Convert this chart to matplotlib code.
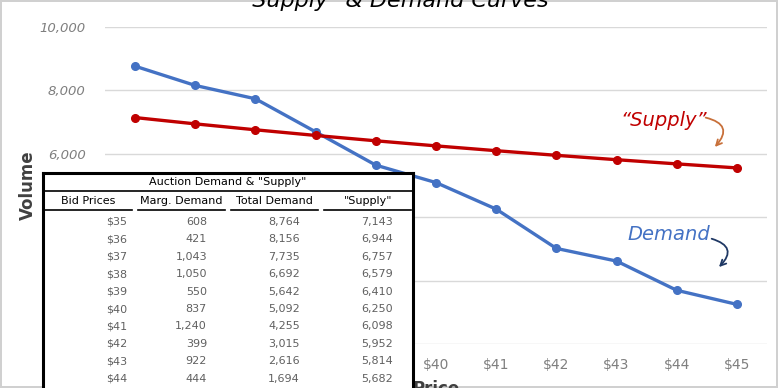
import matplotlib
matplotlib.use('Agg')
import matplotlib.pyplot as plt
from matplotlib.lines import Line2D

plt.rcParams['text.parse_math'] = False

# datos
precios = ['$35', '$36', '$37', '$38', '$39', '$40', '$41', '$42', '$43', '$44', '$45']
demanda_total = [8764, 8156, 7735, 6692, 5642, 5092, 4255, 3015, 2616, 1694, 1250]
oferta = [7143, 6944, 6757, 6579, 6410, 6250, 6098, 5952, 5814, 5682, 5555]
demanda_marg = [608, 421, 1043, 1050, 550, 837, 1240, 399, 922, 444]
cabeceras = ['Bid Prices', 'Marg. Demand', 'Total Demand', '"Supply"']
y_ticks = [0, 2000, 4000, 6000, 8000, 10000]

W, H = 778, 388
azul = '#4472C4'
rojo = '#C00000'
gris = '#7f7f7f'

fig = plt.figure(figsize=(W / 100, H / 100), dpi=100)
fig.patch.set_edgecolor('#d0d0d0')
fig.patch.set_linewidth(1.5)

ax = fig.add_axes([105 / W, 1 - 344 / H, 662 / W, 317 / H])
x = list(range(len(precios)))
ax.plot(x, demanda_total, color=azul, lw=2.4, marker='o', ms=5.5, zorder=3)
ax.plot(x, oferta, color=rojo, lw=2.4, marker='o', ms=5.5, zorder=3)
ax.set_xlim(-0.5, len(precios) - 0.5)
ax.set_ylim(0, 10000)
ax.set_yticks(y_ticks)
ax.set_yticklabels([f'{v:,}' for v in y_ticks], color=gris, fontsize=9.5, style='italic')
ax.set_xticks(x)
ax.set_xticklabels(precios, color=gris, fontsize=10)
ax.tick_params(length=0, pad=10)
ax.tick_params(axis='y', pad=14)
for s in ax.spines.values():
    s.set_visible(False)
ax.grid(axis='y', color='#d9d9d9', lw=1)
ax.set_axisbelow(True)

fig.text(395 / W, 1 - 7 / H, '"Supply" & Demand Curves', ha='center', va='baseline',
         fontsize=16, style='italic', color='black')
fig.text(28 / W, 1 - 185 / H, 'Volume', rotation=90, ha='center', va='center',
         fontsize=12, color='#404040', fontweight='bold')
fig.text(436 / W, 1 - 380 / H, 'Price', ha='center', va='top', fontsize=12,
         color='#404040', fontweight='bold')

# anotaciones
fig.text(664 / W, 1 - 120 / H, '\u201cSupply\u201d', ha='center', va='center',
         fontsize=14, style='italic', color=rojo)
ax.annotate('', xy=(713 / W, 1 - 149 / H), xytext=(703 / W, 1 - 117 / H),
            xycoords='figure fraction', textcoords='figure fraction',
            arrowprops=dict(arrowstyle='->', color='#c8703a', lw=1.3,
                            connectionstyle='arc3,rad=-0.9'))
fig.text(669 / W, 1 - 235 / H, 'Demand', ha='center', va='center',
         fontsize=14, style='italic', color=azul)
ax.annotate('', xy=(717 / W, 1 - 269 / H), xytext=(709 / W, 1 - 238 / H),
            xycoords='figure fraction', textcoords='figure fraction',
            arrowprops=dict(arrowstyle='->', color='#1f3864', lw=1.3,
                            connectionstyle='arc3,rad=-0.9'))

# tabla
tab = fig.add_axes([43 / W, 1 - 430 / H, 370 / W, 257 / H], zorder=5)
tab.set_xlim(43, 413)
tab.set_ylim(430, 173)
tab.set_xticks([])
tab.set_yticks([])
tab.set_facecolor('white')
for lado in ['left', 'top', 'right']:
    tab.spines[lado].set_linewidth(2.2)
    tab.spines[lado].set_color('black')
tab.spines['bottom'].set_visible(False)

tab.text(228, 182, 'Auction Demand & "Supply"', ha='center', va='center', fontsize=8)
tab.add_line(Line2D([43, 413], [191, 191], color='black', lw=1.2))
centros = [88, 181, 274, 368]
tramos = [(45, 132), (138, 225), (231, 318), (324, 411)]
for c, t, (a, b) in zip(cabeceras, centros, tramos):
    tab.text(t, 201, c, ha='center', va='center', fontsize=8)
    tab.add_line(Line2D([a, b], [210, 210], color='black', lw=1.2))

derechas = [127, 207, 300, 393]
for i in range(len(demanda_marg)):
    y = 222 + i * 17.4
    fila = [precios[i], f'{demanda_marg[i]:,}', f'{demanda_total[i]:,}', f'{oferta[i]:,}']
    for v, xr in zip(fila, derechas):
        tab.text(xr, y, v, ha='right', va='center', fontsize=8, color='#606060')

plt.savefig('out.png', dpi=100)
